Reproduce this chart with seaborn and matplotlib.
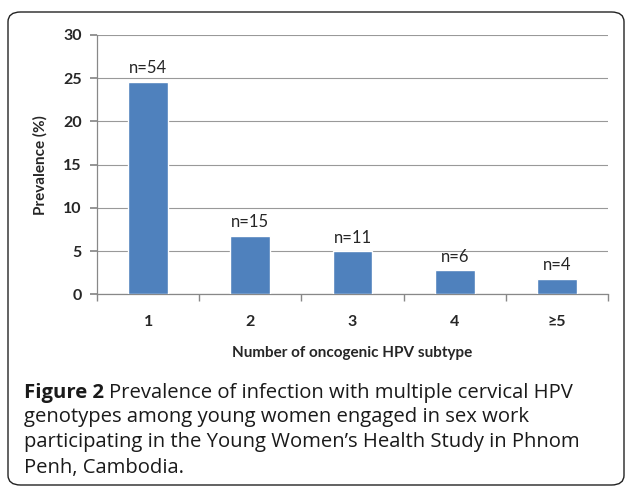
import matplotlib
matplotlib.use("Agg")
import matplotlib.pyplot as plt
from matplotlib.patches import FancyBboxPatch
import seaborn as sns
import pandas as pd

categories = ["1", "2", "3", "4", "\u22655"]
prevalence = [24.6, 6.8, 5.0, 2.8, 1.8]
counts = ["n=54", "n=15", "n=11", "n=6", "n=4"]
yticks = [0, 5, 10, 15, 20, 25, 30]

sns.set_theme(style="white")
plt.rcParams['font.family'] = ['Lato', 'DejaVu Sans']

df = pd.DataFrame({"cat": categories, "val": prevalence})

fig = plt.figure(figsize=(6.29, 4.87), dpi=100)
fig.patch.set_facecolor("white")

box = FancyBboxPatch((8/629, 2/487), 616/629, 473/487,
                     boxstyle="round,pad=0,rounding_size=0.02",
                     transform=fig.transFigure, fill=False,
                     edgecolor="#222222", linewidth=1.0)
fig.patches.append(box)

ax = fig.add_axes([97/629, 1-294.3/487, 511/629, 259.3/487])
sns.barplot(data=df, x="cat", y="val", color="#4F81BD", width=0.39,
            saturation=1, ax=ax, zorder=3)
ax.set_ylim(0, 30)
ax.set_xlim(-0.5, 4.5)
ax.set_yticks(yticks)
ax.set_yticklabels([str(t) for t in yticks], fontsize=11.5, fontweight="bold")
ax.grid(axis="y", color="#999999", linewidth=0.8, zorder=0)
ax.set_axisbelow(True)
for s in ["top", "right"]:
    ax.spines[s].set_visible(False)
for s in ["left", "bottom"]:
    ax.spines[s].set_color("#888888")
    ax.spines[s].set_linewidth(0.9)
ax.tick_params(axis="y", length=5, color="#888888", pad=6, left=True)
ax.set_xticks(range(len(categories)))
ax.set_xticklabels(categories, fontsize=11.5, fontweight="bold")
ax.tick_params(axis="x", which="major", length=0, pad=15)
ax.set_xticks([-0.5, 0.5, 1.5, 2.5, 3.5, 4.5], minor=True)
ax.tick_params(axis="x", which="minor", length=5, color="#888888", bottom=True)
ax.set_xlabel("Number of oncogenic HPV subtype", fontsize=11, fontweight="bold", labelpad=12)
ax.set_ylabel("Prevalence (%)", fontsize=11, fontweight="bold", labelpad=11)

for i, (v, c) in enumerate(zip(prevalence, counts)):
    ax.annotate(c, (i, v), xytext=(0, 4), textcoords="offset points",
                ha="center", va="bottom", fontsize=12)

cap_font = ['Open Sans', 'DejaVu Sans']
lines = ["Prevalence of infection with multiple cervical HPV",
         "genotypes among young women engaged in sex work",
         "participating in the Young Women\u2019s Health Study in Phnom",
         "Penh, Cambodia."]
fs = 14.6
x0 = 24/629
ys = [1-393/487, 1-417/487, 1-442/487, 1-468/487]
t = fig.text(x0, ys[0], "Figure 2", fontsize=fs, fontweight="bold",
             family=cap_font, va="center", ha="left", color="#1a1a1a")
fig.canvas.draw()
bb = t.get_window_extent(renderer=fig.canvas.get_renderer())
x1 = (bb.x1 + 5) / fig.bbox.width
fig.text(x1, ys[0], lines[0], fontsize=fs, family=cap_font, va="center",
         ha="left", color="#1a1a1a")
for y, l in zip(ys[1:], lines[1:]):
    fig.text(x0, y, l, fontsize=fs, family=cap_font, va="center",
             ha="left", color="#1a1a1a")

fig.savefig("out.png", dpi=100, facecolor="white")
